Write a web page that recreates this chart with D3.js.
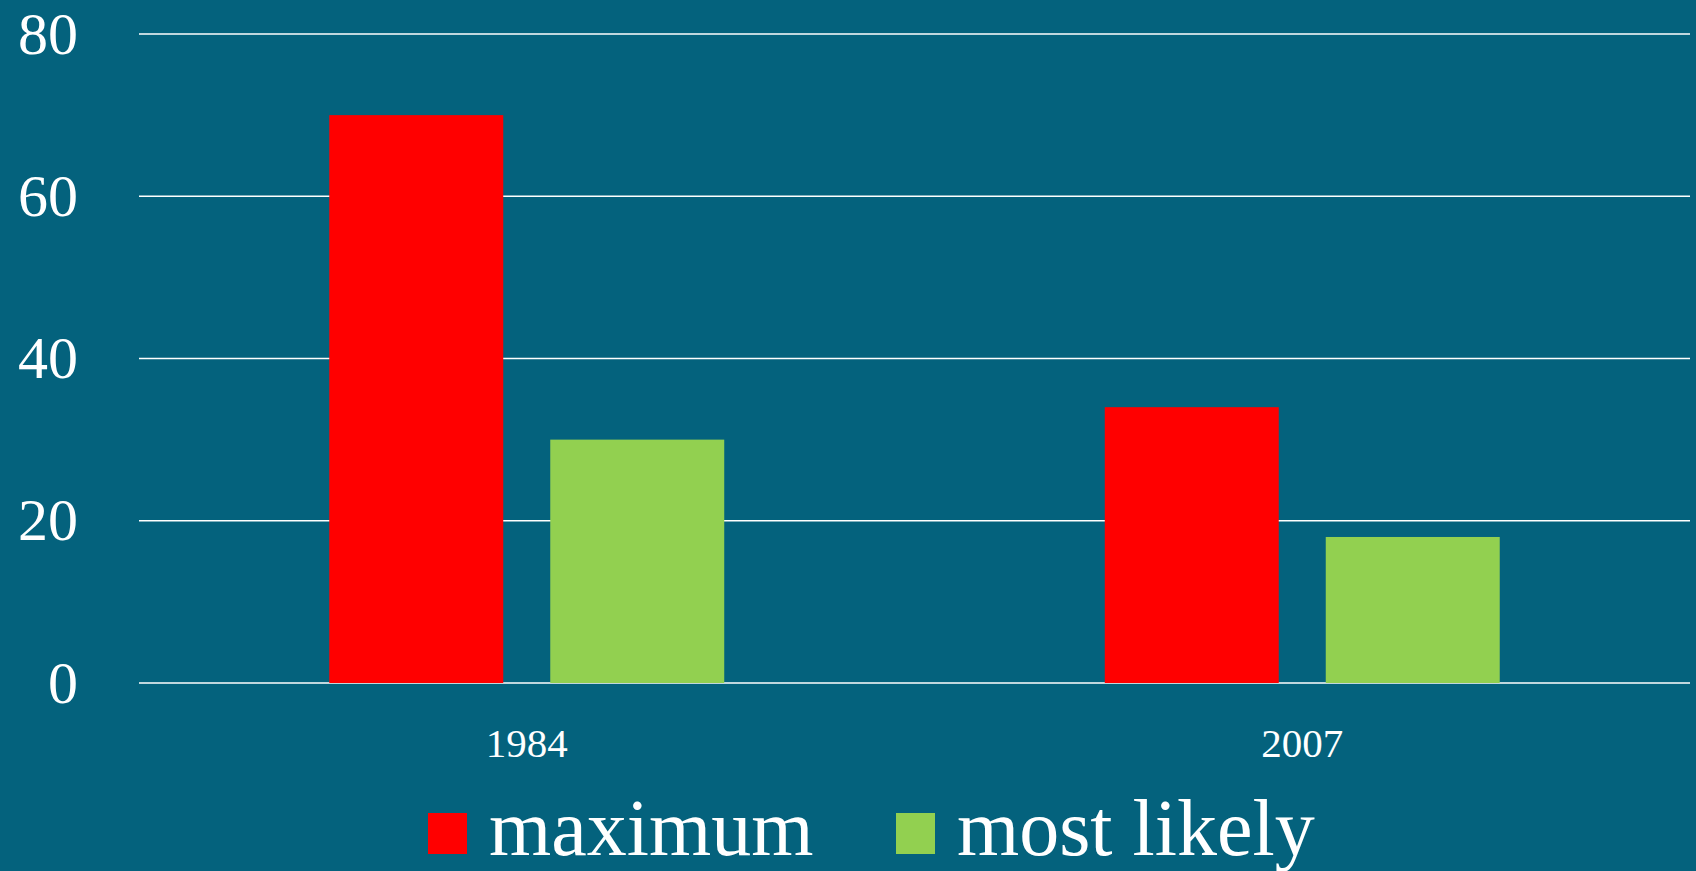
<!DOCTYPE html>
<html>
<head>
<meta charset="utf-8">
<script src="https://cdn.jsdelivr.net/npm/d3@7/dist/d3.min.js"></script>
<style>
  html, body { margin: 0; padding: 0; background: #04627d; overflow: hidden; }
  svg { display: block; }
  text { font-family: "Liberation Serif", "DejaVu Serif", serif; fill: #ffffff; }
</style>
</head>
<body>
<svg id="chart" width="1696" height="871"></svg>
<script>
// Chart data
const years = ["1984", "2007"];
const seriesNames = ["maximum", "most likely"];
const maximumValues = [70, 34];
const mostLikelyValues = [30, 18];
const yTicks = [0, 20, 40, 60, 80];
const seriesColors = ["#ff0000", "#92d050"];

const W = 1696, H = 871;
const plot = { left: 139, right: 1690, top: 34, bottom: 683 };

const svg = d3.select("#chart");
svg.append("rect").attr("width", W).attr("height", H).attr("fill", "#04627d");

const y = d3.scaleLinear().domain([0, 80]).range([plot.bottom, plot.top]);
const x0 = d3.scaleBand().domain(years).range([plot.left, plot.right]).padding(0);
const x1 = d3.scaleBand().domain(seriesNames).range([0, x0.bandwidth()])
  .paddingInner(0.2127).paddingOuter(0.861);

// Horizontal gridlines
svg.append("g")
  .selectAll("line")
  .data(yTicks)
  .join("line")
  .attr("x1", plot.left).attr("x2", plot.right)
  .attr("y1", d => y(d)).attr("y2", d => y(d))
  .attr("stroke", "#ffffff").attr("stroke-width", 1.5);

// Y axis labels
const yAxis = d3.axisLeft(y).tickValues(yTicks).tickSize(0).tickPadding(0);
const yg = svg.append("g").attr("transform", "translate(78,0)").call(yAxis);
yg.select(".domain").remove();
yg.selectAll("text")
  .attr("fill", "#ffffff")
  .style("font-family", "'Liberation Serif', serif")
  .style("font-size", "60px")
  .attr("dy", "0.32em");

// X axis labels
const xAxis = d3.axisBottom(x0).tickSize(0).tickPadding(0);
const xg = svg.append("g").attr("transform", "translate(0,728)").call(xAxis);
xg.select(".domain").remove();
xg.selectAll("text")
  .attr("fill", "#ffffff")
  .style("font-family", "'Liberation Serif', serif")
  .style("font-size", "41px")
  .attr("dy", "0.71em");

// Bars
const rows = years.map((yr, i) => ({
  year: yr,
  values: [
    { name: seriesNames[0], value: maximumValues[i] },
    { name: seriesNames[1], value: mostLikelyValues[i] }
  ]
}));

const groups = svg.append("g")
  .selectAll("g")
  .data(rows)
  .join("g")
  .attr("transform", d => `translate(${x0(d.year)},0)`);

groups.selectAll("rect")
  .data(d => d.values)
  .join("rect")
  .attr("x", d => x1(d.name))
  .attr("width", x1.bandwidth())
  .attr("y", d => y(d.value))
  .attr("height", d => y(0) - y(d.value))
  .attr("fill", (d, i) => seriesColors[i]);

// Legend
const legendX = [428, 896];
const legend = svg.append("g")
  .selectAll("g")
  .data(seriesNames)
  .join("g")
  .attr("transform", (d, i) => `translate(${legendX[i]},0)`);

legend.append("rect")
  .attr("x", 0).attr("y", 813)
  .attr("width", 39).attr("height", 41)
  .attr("fill", (d, i) => seriesColors[i]);

legend.append("text")
  .attr("x", 61).attr("y", 855)
  .style("font-size", "80px")
  .text(d => d);
</script>
</body>
</html>
